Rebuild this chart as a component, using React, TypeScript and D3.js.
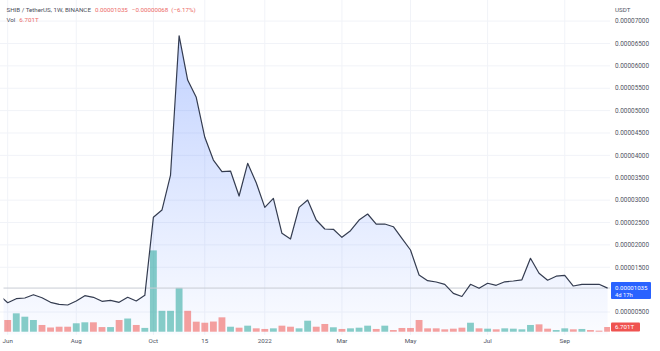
import React from 'react';
import * as d3 from 'd3';

// Weekly closes (units of 1e-8 USDT), first week starts Mon 2021-05-31 (partly off-screen)
const startWeek = '2021-05-31';
const closes = [880, 708, 798, 813, 887, 820, 717, 672, 657, 746, 865, 829, 739, 762, 717, 829, 746, 873,
  2616, 2779, 3561, 6673, 5683, 5297, 4403, 3896, 3635, 3650, 3092, 3822, 3389, 2839, 3040, 2259, 2131,
  2839, 3002, 2556, 2355, 2348, 2169, 2317, 2556, 2690, 2466, 2466, 2406, 2147, 1886, 1327, 1200, 1171,
  1119, 918, 847, 1119, 1030, 1142, 1097, 1175, 1193, 1220, 1700, 1365, 1211, 1300, 1320, 1081, 1119,
  1119, 1119, 1035];
// Weekly volume (trillions), aligned with closes
const volumes = [null, 16.7, 26.2, 21.4, 16.7, 9.6, 6, 7.1, 7.1, 12, 13.4, 13.4, 6.6, 6.6, 16.7, 18.8, 9.6, 5.4,
  116, 29.8, 29.8, 62.5, 29.8, 14.3, 12.8, 14.5, 20.5, 7.1, 5.7, 8.6, 4.8, 3.9, 4.8, 8.6, 7.1, 4.8, 15.7,
  7.1, 11, 6.3, 3.9, 4.8, 5.7, 8.6, 3.9, 8.6, 2.4, 5.3, 5.3, 16.7, 4.8, 4.8, 3.4, 4.3, 5.7, 12.8, 4.8, 4.3,
  3.4, 4.8, 4.3, 3.4, 9.6, 10.5, 4.3, 2.4, 4.8, 3.4, 3.9, 2.4, 1.5, 6.701];
// candle direction per week: u = close above open, d = below
const directions = ['d', 'd', 'u', 'u', 'u', 'd', 'd', 'd', 'd', 'u', 'u', 'd', 'd', 'u', 'd', 'u', 'd', 'u',
  'u', 'u', 'u', 'u', 'd', 'd', 'd', 'd', 'd', 'u', 'd', 'u', 'd', 'd', 'u', 'd', 'd', 'u', 'u', 'd', 'd',
  'u', 'd', 'u', 'u', 'u', 'd', 'u', 'd', 'd', 'd', 'd', 'd', 'd', 'd', 'd', 'd', 'u', 'd', 'u', 'd', 'u',
  'u', 'u', 'u', 'd', 'd', 'u', 'u', 'd', 'u', 'd', 'd', 'd'];

const priceTicks = [7000, 6500, 6000, 5500, 5000, 4500, 4000, 3500, 3000, 2500, 2000, 1500, 500];
const xTickDates = ['2021-06-07', '2021-08-02', '2021-10-04', '2021-11-15', '2022-01-03', '2022-03-07', '2022-05-02', '2022-07-04', '2022-09-05'];
const xTickLabels = ['Jun', 'Aug', 'Oct', '15', '2022', 'Mar', 'May', 'Jul', 'Sep'];

const lastPrice = 1035;
const lastVolume = 6.701;

const FONT = 'Roboto, "Noto Sans", sans-serif';

export default function App() {
  const parse = d3.utcParse('%Y-%m-%d');
  const start = parse(startWeek) as Date;
  const dates = closes.map((_, i) => d3.utcMonday.offset(start, i));
  const x = d3.scaleUtc().domain([parse('2021-06-07') as Date, parse('2022-10-10') as Date]).range([7.7, 607.6]);
  const y = d3.scaleLinear().domain([0, 7000]).range([334.4, 21.1]);
  const yv = d3.scaleLinear().domain([0, 100]).range([331.7, 261.6]);
  const step = x(dates[2]) - x(dates[1]);
  const barW = step * 0.8;

  const pts = closes.map((c, i) => [x(dates[i]), c] as [number, number]);
  const line = d3.line<[number, number]>().x(d => d[0]).y(d => y(d[1]))(pts) || '';
  const area = d3.area<[number, number]>().x(d => d[0]).y0(y(0)).y1(d => y(d[1]))(pts) || '';

  const plotRight = 610;
  const fmt = (v: number) => (v * 1e-8).toFixed(8);
  const axisColor = '#50545f';
  const red = '#ec6a67';
  const ly = y(lastPrice);

  return (
    <svg width={660} height={351} style={{ position: 'absolute', left: 0, top: 0, background: '#fff' }} fontFamily={FONT}>
      <defs>
        <clipPath id="plot"><rect x={3.5} y={0} width={plotRight - 3.5} height={335} /></clipPath>
        <linearGradient id="areaGrad" gradientUnits="userSpaceOnUse" x1={0} y1={y(7000)} x2={0} y2={y(0)}>
          <stop offset="0%" stopColor="#2962ff" stopOpacity={0.3} />
          <stop offset="100%" stopColor="#2962ff" stopOpacity={0.02} />
        </linearGradient>
      </defs>
      {/* grid */}
      <g>
        {priceTicks.map(t => (
          <line key={'h' + t} x1={0} x2={plotRight} y1={y(t)} y2={y(t)} stroke="#f1f3f8" strokeWidth={1} />
        ))}
        {xTickDates.map(d => (
          <line key={'v' + d} x1={x(parse(d) as Date)} x2={x(parse(d) as Date)} y1={0} y2={335} stroke="#f1f3f8" strokeWidth={1} />
        ))}
      </g>
      <g clipPath="url(#plot)">
        <path d={area} fill="url(#areaGrad)" />
        {volumes.map((v, i) => v == null ? null : (
          <rect key={'b' + i} x={x(dates[i]) - barW / 2} y={yv(v)} width={barW} height={yv(0) - yv(v)}
            fill={directions[i] === 'u' ? '#26a69a' : '#ef5350'} fillOpacity={0.55} />
        ))}
        <line x1={0} x2={plotRight} y1={ly} y2={ly} stroke="#c9ccd4" strokeWidth={1} />
        <path d={line} fill="none" stroke="#343c50" strokeWidth={1.2} strokeLinejoin="round" />
      </g>
      {/* header */}
      <text x={6.5} y={12} fontSize={6.2} fill="#4a4e5a">
        SHIB / TetherUS, 1W, BINANCE
        <tspan dx={4} fill={red}>{fmt(lastPrice)}</tspan>
        <tspan dx={4} fill={red}>−0.00000068</tspan>
        <tspan dx={3} fill={red}>(−6.17%)</tspan>
      </text>
      <text x={6.5} y={21.5} fontSize={6.2} fill="#4a4e5a">
        Vol<tspan dx={4} fill={red}>6.701T</tspan>
      </text>
      {/* right axis */}
      <text x={615} y={10} dy="0.35em" fontSize={6.2} fill={axisColor}>USDT</text>
      {priceTicks.map(t => (
        <text key={'t' + t} x={615} y={y(t)} dy="0.35em" fontSize={6.4} fill={axisColor}>{fmt(t)}</text>
      ))}
      <rect x={611} y={ly - 6} width={40} height={17} rx={1} fill="#2962ff" />
      <text x={615} y={ly - 0.6} dy="0.35em" fontSize={6.1} fill="#fff">{fmt(lastPrice)}</text>
      <text x={615} y={ly + 6.6} dy="0.35em" fontSize={5.8} fill="#fff">4d 17h</text>
      <rect x={611} y={yv(lastVolume) - 4.5} width={29} height={9} rx={1} fill="#ef5350" />
      <text x={615} y={yv(lastVolume)} dy="0.35em" fontSize={6.2} fill="#fff">{lastVolume.toFixed(3)}T</text>
      {/* x axis */}
      {xTickDates.map((d, i) => (
        <text key={'x' + d} x={x(parse(d) as Date)} y={341} dy="0.35em" fontSize={6.2} fill={axisColor} textAnchor="middle">{xTickLabels[i]}</text>
      ))}
    </svg>
  );
}
